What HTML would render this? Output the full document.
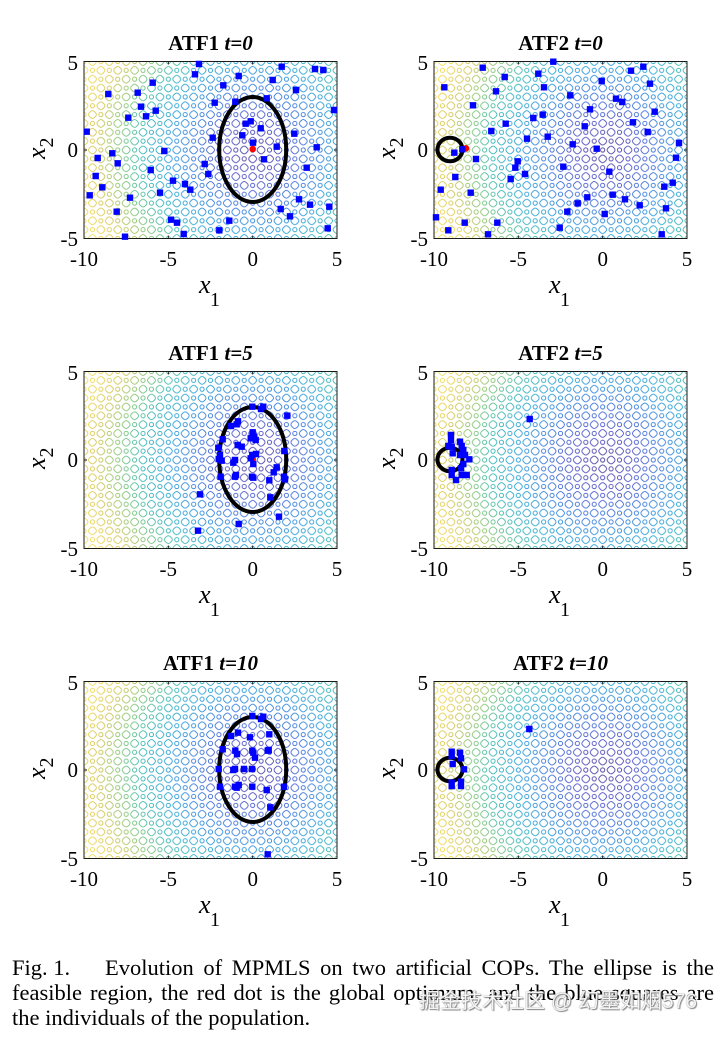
<!DOCTYPE html>
<html>
<head>
<meta charset="utf-8">
<style>
html,body{margin:0;padding:0;background:#fff;}
body{width:723px;height:1041px;position:relative;overflow:hidden;}
svg{position:absolute;left:0;top:0;}
.cap{position:absolute;left:12px;width:702px;font-family:"Liberation Serif",serif;font-size:22.5px;line-height:25px;color:#000;white-space:nowrap;}
.j{text-align:justify;text-align-last:justify;}
.wm{position:absolute;left:419px;top:989px;font-family:"Liberation Sans","Noto Sans CJK SC",sans-serif;font-size:21px;line-height:25px;color:#f4f4f4;text-shadow:0 0 1px #666,1px 1px 1px #888;white-space:nowrap;}
</style>
</head>
<body>
<svg width="723" height="1041" viewBox="0 0 723 1041" xmlns="http://www.w3.org/2000/svg">
<defs>
  <pattern id="pat" patternUnits="userSpaceOnUse" x="168.67" y="88.5" width="16.867" height="17.7">
    <g fill="none" stroke="#fff" stroke-width="0.85">
      <circle cx="0" cy="0" r="2.1"/>
      <circle cx="16.867" cy="0" r="2.1"/>
      <circle cx="0" cy="17.7" r="2.1"/>
      <circle cx="16.867" cy="17.7" r="2.1"/>
      <circle cx="8.433" cy="8.85" r="2.1"/>
      <rect x="-3.5" y="-3.5" width="7" height="7" rx="2.5" transform="translate(8.433,0) rotate(45)"/>
      <rect x="-3.5" y="-3.5" width="7" height="7" rx="2.5" transform="translate(8.433,17.7) rotate(45)"/>
      <rect x="-3.5" y="-3.5" width="7" height="7" rx="2.5" transform="translate(0,8.85) rotate(45)"/>
      <rect x="-3.5" y="-3.5" width="7" height="7" rx="2.5" transform="translate(16.867,8.85) rotate(45)"/>
    </g>
  </pattern>
  <mask id="m" maskUnits="userSpaceOnUse" x="0" y="0" width="253" height="177">
    <rect x="0" y="0" width="253" height="177" fill="url(#pat)"/>
  </mask>
  <radialGradient id="g" gradientUnits="userSpaceOnUse" cx="168.67" cy="88.5" r="190">
    <stop offset="0" stop-color="#40318f"/>
    <stop offset="0.15" stop-color="#4749c4"/>
    <stop offset="0.3" stop-color="#306fdc"/>
    <stop offset="0.45" stop-color="#1f9ad6"/>
    <stop offset="0.58" stop-color="#2db4b4"/>
    <stop offset="0.7" stop-color="#78c270"/>
    <stop offset="0.82" stop-color="#d0c24a"/>
    <stop offset="0.92" stop-color="#eed34a"/>
    <stop offset="1" stop-color="#f2e455"/>
  </radialGradient>
</defs>

<!-- plot backgrounds -->
<g transform="translate(84,61.5)">
  <rect width="253" height="177" fill="#fff"/>
  <rect width="253" height="177" fill="url(#g)" mask="url(#m)"/>
  <rect width="253" height="177" fill="none" stroke="#1a1a1a" stroke-width="1"/>
  <path d="M84.33 177v-3M168.67 177v-3M84.33 0v3M168.67 0v3M0 88.5h3M253 88.5h-3" stroke="#1a1a1a" stroke-width="1"/>
</g>
<g transform="translate(434,61.5)">
  <rect width="253" height="177" fill="#fff"/>
  <rect width="253" height="177" fill="url(#g)" mask="url(#m)"/>
  <rect width="253" height="177" fill="none" stroke="#1a1a1a" stroke-width="1"/>
  <path d="M84.33 177v-3M168.67 177v-3M84.33 0v3M168.67 0v3M0 88.5h3M253 88.5h-3" stroke="#1a1a1a" stroke-width="1"/>
</g>
<g transform="translate(84,371.5)">
  <rect width="253" height="177" fill="#fff"/>
  <rect width="253" height="177" fill="url(#g)" mask="url(#m)"/>
  <rect width="253" height="177" fill="none" stroke="#1a1a1a" stroke-width="1"/>
  <path d="M84.33 177v-3M168.67 177v-3M84.33 0v3M168.67 0v3M0 88.5h3M253 88.5h-3" stroke="#1a1a1a" stroke-width="1"/>
</g>
<g transform="translate(434,371.5)">
  <rect width="253" height="177" fill="#fff"/>
  <rect width="253" height="177" fill="url(#g)" mask="url(#m)"/>
  <rect width="253" height="177" fill="none" stroke="#1a1a1a" stroke-width="1"/>
  <path d="M84.33 177v-3M168.67 177v-3M84.33 0v3M168.67 0v3M0 88.5h3M253 88.5h-3" stroke="#1a1a1a" stroke-width="1"/>
</g>
<g transform="translate(84,681.5)">
  <rect width="253" height="177" fill="#fff"/>
  <rect width="253" height="177" fill="url(#g)" mask="url(#m)"/>
  <rect width="253" height="177" fill="none" stroke="#1a1a1a" stroke-width="1"/>
  <path d="M84.33 177v-3M168.67 177v-3M84.33 0v3M168.67 0v3M0 88.5h3M253 88.5h-3" stroke="#1a1a1a" stroke-width="1"/>
</g>
<g transform="translate(434,681.5)">
  <rect width="253" height="177" fill="#fff"/>
  <rect width="253" height="177" fill="url(#g)" mask="url(#m)"/>
  <rect width="253" height="177" fill="none" stroke="#1a1a1a" stroke-width="1"/>
  <path d="M84.33 177v-3M168.67 177v-3M84.33 0v3M168.67 0v3M0 88.5h3M253 88.5h-3" stroke="#1a1a1a" stroke-width="1"/>
</g>

<!-- feasible regions -->
<g fill="none" stroke="#000" stroke-width="4">
  <ellipse cx="252.7" cy="149.5" rx="33.5" ry="52.5"/>
  <ellipse cx="252.7" cy="459.5" rx="33.5" ry="52.5"/>
  <ellipse cx="252.7" cy="769.5" rx="33.5" ry="52.5"/>
  <ellipse cx="450" cy="149.5" rx="12.5" ry="11.8"/>
  <ellipse cx="450" cy="459.5" rx="12.5" ry="11.8"/>
  <ellipse cx="450" cy="769.5" rx="12.5" ry="11.8"/>
</g>

<!-- optima -->
<g fill="#ff0000">
  <circle cx="252.7" cy="149" r="3.3"/>
  <circle cx="466" cy="148.3" r="3.3"/>
  <circle cx="252.7" cy="459" r="3.3"/>
  <circle cx="252.7" cy="769" r="3.3"/>
</g>

<!-- populations -->
<path fill="#0000ff" d="
M195.8 60.8h6.4v6.4h-6.4zM191.8 71.1h6.4v6.4h-6.4zM278.5 63.5h6.4v6.4h-6.4zM311.8 65.8h6.4v6.4h-6.4zM320.1 66.8h6.4v6.4h-6.4zM235.5 72.8h6.4v6.4h-6.4zM269.5 76.8h6.4v6.4h-6.4zM149.5 79.5h6.4v6.4h-6.4zM220.1 82.1h6.4v6.4h-6.4zM292.8 86.8h6.4v6.4h-6.4zM105.1 90.8h6.4v6.4h-6.4zM134.5 89.5h6.4v6.4h-6.4zM263.5 95.1h6.4v6.4h-6.4zM211.5 99.5h6.4v6.4h-6.4zM232.1 98.5h6.4v6.4h-6.4zM330.8 106.8h6.4v6.4h-6.4zM137.8 103.5h6.4v6.4h-6.4zM152.5 107.5h6.4v6.4h-6.4zM125.1 114.5h6.4v6.4h-6.4zM142.8 113.1h6.4v6.4h-6.4zM242.5 120.5h6.4v6.4h-6.4zM247.5 118.1h6.4v6.4h-6.4zM257.5 125.1h6.4v6.4h-6.4zM83.5 128.5h6.4v6.4h-6.4zM291.1 130.5h6.4v6.4h-6.4zM239.1 132.1h6.4v6.4h-6.4zM209.5 134.5h6.4v6.4h-6.4zM249.8 139.5h6.4v6.4h-6.4zM273.5 143.5h6.4v6.4h-6.4zM313.5 144.1h6.4v6.4h-6.4zM109.1 150.1h6.4v6.4h-6.4zM161.1 147.8h6.4v6.4h-6.4zM94.5 154.8h6.4v6.4h-6.4zM260.8 156.1h6.4v6.4h-6.4zM114.5 160.1h6.4v6.4h-6.4zM201.5 160.8h6.4v6.4h-6.4zM303.5 164.5h6.4v6.4h-6.4zM147.5 166.8h6.4v6.4h-6.4zM92.5 172.8h6.4v6.4h-6.4zM205.1 170.8h6.4v6.4h-6.4zM169.8 177.5h6.4v6.4h-6.4zM181.8 180.8h6.4v6.4h-6.4zM187.1 186.5h6.4v6.4h-6.4zM99.1 184.1h6.4v6.4h-6.4zM156.8 189.5h6.4v6.4h-6.4zM86.5 192.1h6.4v6.4h-6.4zM126.8 194.5h6.4v6.4h-6.4zM295.8 196.1h6.4v6.4h-6.4zM306.8 201.5h6.4v6.4h-6.4zM326.1 203.5h6.4v6.4h-6.4zM277.5 205.8h6.4v6.4h-6.4zM113.5 208.5h6.4v6.4h-6.4zM286.8 213.1h6.4v6.4h-6.4zM167.8 216.5h6.4v6.4h-6.4zM173.8 219.5h6.4v6.4h-6.4zM226.1 217.5h6.4v6.4h-6.4zM216.1 227.1h6.4v6.4h-6.4zM324.5 225.1h6.4v6.4h-6.4zM180.5 230.8h6.4v6.4h-6.4zM121.8 233.5h6.4v6.4h-6.4z
M550.1 58.5h6.4v6.4h-6.4zM479.5 64.5h6.4v6.4h-6.4zM640.1 63.5h6.4v6.4h-6.4zM627.8 67.5h6.4v6.4h-6.4zM535.1 70.5h6.4v6.4h-6.4zM501.5 73.8h6.4v6.4h-6.4zM598.5 77.8h6.4v6.4h-6.4zM441.1 84.1h6.4v6.4h-6.4zM540.8 84.1h6.4v6.4h-6.4zM646.8 80.5h6.4v6.4h-6.4zM492.8 88.1h6.4v6.4h-6.4zM567.1 92.1h6.4v6.4h-6.4zM612.8 95.5h6.4v6.4h-6.4zM619.1 98.8h6.4v6.4h-6.4zM469.8 102.1h6.4v6.4h-6.4zM586.8 106.1h6.4v6.4h-6.4zM651.5 108.5h6.4v6.4h-6.4zM530.1 114.8h6.4v6.4h-6.4zM539.5 111.5h6.4v6.4h-6.4zM502.5 120.5h6.4v6.4h-6.4zM629.8 119.1h6.4v6.4h-6.4zM581.5 123.1h6.4v6.4h-6.4zM488.1 127.8h6.4v6.4h-6.4zM644.5 128.8h6.4v6.4h-6.4zM523.8 135.5h6.4v6.4h-6.4zM544.5 133.5h6.4v6.4h-6.4zM675.8 139.8h6.4v6.4h-6.4zM569.5 141.1h6.4v6.4h-6.4zM593.5 145.5h6.4v6.4h-6.4zM451.1 149.5h6.4v6.4h-6.4zM459.1 146.1h6.4v6.4h-6.4zM472.8 155.8h6.4v6.4h-6.4zM672.8 154.5h6.4v6.4h-6.4zM514.5 158.1h6.4v6.4h-6.4zM512.1 164.5h6.4v6.4h-6.4zM560.1 163.5h6.4v6.4h-6.4zM606.1 168.5h6.4v6.4h-6.4zM521.8 170.8h6.4v6.4h-6.4zM452.1 173.8h6.4v6.4h-6.4zM507.5 175.8h6.4v6.4h-6.4zM669.5 179.5h6.4v6.4h-6.4zM661.1 183.5h6.4v6.4h-6.4zM437.5 186.5h6.4v6.4h-6.4zM467.5 189.5h6.4v6.4h-6.4zM609.5 191.5h6.4v6.4h-6.4zM584.1 194.1h6.4v6.4h-6.4zM574.5 200.1h6.4v6.4h-6.4zM621.8 196.1h6.4v6.4h-6.4zM636.5 202.1h6.4v6.4h-6.4zM662.8 205.1h6.4v6.4h-6.4zM564.1 208.5h6.4v6.4h-6.4zM601.5 210.8h6.4v6.4h-6.4zM432.8 214.1h6.4v6.4h-6.4zM461.5 219.5h6.4v6.4h-6.4zM494.1 219.5h6.4v6.4h-6.4zM556.5 224.5h6.4v6.4h-6.4zM445.1 227.1h6.4v6.4h-6.4zM484.8 231.1h6.4v6.4h-6.4zM658.5 231.1h6.4v6.4h-6.4z
M249.1 403.5h6.4v6.4h-6.4zM260.1 403.5h6.4v6.4h-6.4zM257.8 405.8h6.4v6.4h-6.4zM284.1 412.5h6.4v6.4h-6.4zM234.8 418.1h6.4v6.4h-6.4zM233.5 421.1h6.4v6.4h-6.4zM227.8 422.8h6.4v6.4h-6.4zM249.5 429.1h6.4v6.4h-6.4zM251.1 433.5h6.4v6.4h-6.4zM247.5 435.1h6.4v6.4h-6.4zM252.5 436.8h6.4v6.4h-6.4zM219.5 436.1h6.4v6.4h-6.4zM234.5 441.8h6.4v6.4h-6.4zM238.5 443.5h6.4v6.4h-6.4zM215.1 444.5h6.4v6.4h-6.4zM281.1 447.8h6.4v6.4h-6.4zM215.5 455.8h6.4v6.4h-6.4zM218.5 457.5h6.4v6.4h-6.4zM216.8 451.8h6.4v6.4h-6.4zM230.1 459.5h6.4v6.4h-6.4zM231.8 456.8h6.4v6.4h-6.4zM247.5 455.1h6.4v6.4h-6.4zM250.1 460.8h6.4v6.4h-6.4zM249.1 451.8h6.4v6.4h-6.4zM252.8 450.8h6.4v6.4h-6.4zM273.5 464.1h6.4v6.4h-6.4zM270.5 469.1h6.4v6.4h-6.4zM217.5 473.5h6.4v6.4h-6.4zM231.8 473.5h6.4v6.4h-6.4zM232.8 471.8h6.4v6.4h-6.4zM248.8 473.5h6.4v6.4h-6.4zM250.1 474.5h6.4v6.4h-6.4zM280.8 473.5h6.4v6.4h-6.4zM281.8 476.1h6.4v6.4h-6.4zM266.1 477.1h6.4v6.4h-6.4zM267.1 494.1h6.4v6.4h-6.4zM196.8 491.1h6.4v6.4h-6.4zM275.8 513.5h6.4v6.4h-6.4zM235.5 520.8h6.4v6.4h-6.4zM194.8 527.5h6.4v6.4h-6.4z
M526.5 415.8h6.4v6.4h-6.4zM447.8 431.8h6.4v6.4h-6.4zM447.8 436.8h6.4v6.4h-6.4zM445.1 442.8h6.4v6.4h-6.4zM448.5 443.5h6.4v6.4h-6.4zM456.8 438.5h6.4v6.4h-6.4zM458.5 442.8h6.4v6.4h-6.4zM460.1 446.8h6.4v6.4h-6.4zM449.5 450.1h6.4v6.4h-6.4zM456.8 451.8h6.4v6.4h-6.4zM461.8 451.8h6.4v6.4h-6.4zM466.1 456.1h6.4v6.4h-6.4zM460.1 460.8h6.4v6.4h-6.4zM457.8 465.1h6.4v6.4h-6.4zM448.5 466.8h6.4v6.4h-6.4zM448.5 471.8h6.4v6.4h-6.4zM452.8 476.8h6.4v6.4h-6.4zM458.5 471.8h6.4v6.4h-6.4zM463.5 471.8h6.4v6.4h-6.4z
M249.1 712.8h6.4v6.4h-6.4zM260.1 713.5h6.4v6.4h-6.4zM257.8 715.8h6.4v6.4h-6.4zM234.8 729.5h6.4v6.4h-6.4zM227.8 732.8h6.4v6.4h-6.4zM246.8 734.1h6.4v6.4h-6.4zM266.1 731.1h6.4v6.4h-6.4zM219.5 746.1h6.4v6.4h-6.4zM232.1 747.5h6.4v6.4h-6.4zM233.8 750.8h6.4v6.4h-6.4zM249.1 747.5h6.4v6.4h-6.4zM250.1 749.5h6.4v6.4h-6.4zM264.5 747.5h6.4v6.4h-6.4zM265.5 746.8h6.4v6.4h-6.4zM251.8 754.5h6.4v6.4h-6.4zM215.5 765.8h6.4v6.4h-6.4zM231.8 765.8h6.4v6.4h-6.4zM230.1 766.8h6.4v6.4h-6.4zM240.8 765.8h6.4v6.4h-6.4zM248.8 765.8h6.4v6.4h-6.4zM216.8 783.5h6.4v6.4h-6.4zM231.8 783.5h6.4v6.4h-6.4zM235.5 781.8h6.4v6.4h-6.4zM233.5 784.5h6.4v6.4h-6.4zM249.1 783.5h6.4v6.4h-6.4zM280.8 783.5h6.4v6.4h-6.4zM263.5 786.8h6.4v6.4h-6.4zM267.1 804.1h6.4v6.4h-6.4zM264.5 851.1h6.4v6.4h-6.4z
M526.1 725.8h6.4v6.4h-6.4zM448.5 748.5h6.4v6.4h-6.4zM448.5 752.8h6.4v6.4h-6.4zM456.8 749.5h6.4v6.4h-6.4zM457.8 755.1h6.4v6.4h-6.4zM449.5 760.8h6.4v6.4h-6.4zM460.8 766.1h6.4v6.4h-6.4zM448.5 782.8h6.4v6.4h-6.4zM448.5 779.5h6.4v6.4h-6.4zM457.8 778.5h6.4v6.4h-6.4zM457.8 782.8h6.4v6.4h-6.4z"/>

<!-- text -->
<g font-family="Liberation Serif, serif" fill="#000">
  <g font-size="21" font-weight="bold" text-anchor="middle">
    <text x="210.5" y="50">ATF1 <tspan font-style="italic">t=0</tspan></text>
    <text x="560.5" y="50">ATF2 <tspan font-style="italic">t=0</tspan></text>
    <text x="210.5" y="360">ATF1 <tspan font-style="italic">t=5</tspan></text>
    <text x="560.5" y="360">ATF2 <tspan font-style="italic">t=5</tspan></text>
    <text x="210.5" y="670">ATF1 <tspan font-style="italic">t=10</tspan></text>
    <text x="560.5" y="670">ATF2 <tspan font-style="italic">t=10</tspan></text>
  </g>
  <g font-size="21" text-anchor="end">
    <text x="78" y="70">5</text><text x="78" y="157">0</text><text x="78" y="246">-5</text>
    <text x="428" y="70">5</text><text x="428" y="157">0</text><text x="428" y="246">-5</text>
    <text x="78" y="380">5</text><text x="78" y="467">0</text><text x="78" y="556">-5</text>
    <text x="428" y="380">5</text><text x="428" y="467">0</text><text x="428" y="556">-5</text>
    <text x="78" y="690">5</text><text x="78" y="777">0</text><text x="78" y="866">-5</text>
    <text x="428" y="690">5</text><text x="428" y="777">0</text><text x="428" y="866">-5</text>
  </g>
  <g font-size="21" text-anchor="middle">
    <text x="84" y="266">-10</text><text x="168.3" y="266">-5</text><text x="252.7" y="266">0</text><text x="337" y="266">5</text>
    <text x="434" y="266">-10</text><text x="518.3" y="266">-5</text><text x="602.7" y="266">0</text><text x="687" y="266">5</text>
    <text x="84" y="576">-10</text><text x="168.3" y="576">-5</text><text x="252.7" y="576">0</text><text x="337" y="576">5</text>
    <text x="434" y="576">-10</text><text x="518.3" y="576">-5</text><text x="602.7" y="576">0</text><text x="687" y="576">5</text>
    <text x="84" y="886">-10</text><text x="168.3" y="886">-5</text><text x="252.7" y="886">0</text><text x="337" y="886">5</text>
    <text x="434" y="886">-10</text><text x="518.3" y="886">-5</text><text x="602.7" y="886">0</text><text x="687" y="886">5</text>
  </g>
  <g>
    <text x="199" y="293" font-size="26" font-style="italic">x</text><text x="210" y="306" font-size="20">1</text>
    <text x="549" y="293" font-size="26" font-style="italic">x</text><text x="560" y="306" font-size="20">1</text>
    <text x="199" y="603" font-size="26" font-style="italic">x</text><text x="210" y="616" font-size="20">1</text>
    <text x="549" y="603" font-size="26" font-style="italic">x</text><text x="560" y="616" font-size="20">1</text>
    <text x="199" y="913" font-size="26" font-style="italic">x</text><text x="210" y="926" font-size="20">1</text>
    <text x="549" y="913" font-size="26" font-style="italic">x</text><text x="560" y="926" font-size="20">1</text>
  </g>
  <g>
    <text transform="translate(45,159) rotate(-90)"><tspan font-size="26" font-style="italic">x</tspan><tspan font-size="20" dy="8">2</tspan></text>
    <text transform="translate(395,159) rotate(-90)"><tspan font-size="26" font-style="italic">x</tspan><tspan font-size="20" dy="8">2</tspan></text>
    <text transform="translate(45,469) rotate(-90)"><tspan font-size="26" font-style="italic">x</tspan><tspan font-size="20" dy="8">2</tspan></text>
    <text transform="translate(395,469) rotate(-90)"><tspan font-size="26" font-style="italic">x</tspan><tspan font-size="20" dy="8">2</tspan></text>
    <text transform="translate(45,779) rotate(-90)"><tspan font-size="26" font-style="italic">x</tspan><tspan font-size="20" dy="8">2</tspan></text>
    <text transform="translate(395,779) rotate(-90)"><tspan font-size="26" font-style="italic">x</tspan><tspan font-size="20" dy="8">2</tspan></text>
  </g>
</g>
</svg>

<div class="cap" style="top:955px;display:flex;">
  <span style="width:93px;display:inline-block;">Fig. 1.</span>
  <span class="j" style="flex:1;display:block;">Evolution of MPMLS on two artificial COPs. The ellipse is the</span>
</div>
<div class="cap j" style="top:980px;">feasible region, the red dot is the global optimum, and the blue squares are</div>
<div class="cap" style="top:1005px;">the individuals of the population.</div>
<div class="wm">掘金技术社区 @ 幻墨如烟576</div>
</body>
</html>
